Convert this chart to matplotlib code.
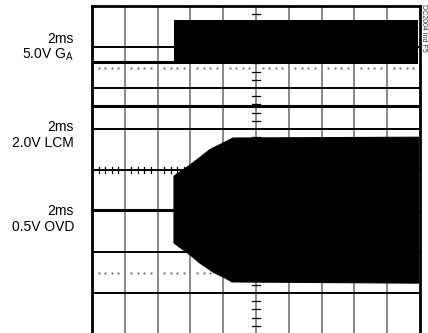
from matplotlib import pyplot as plt

# screen is 10 x 8 divisions, y measured in divisions from the bottom
t_end = 9.95
step_t = 2.5

# gate drive GA (5V/div)
ga_low = 6.64
ga_high = 7.66

# LCM (2V/div), flat
lcm_level = 5.56

# OVD (0.5V/div): baseline before the step, then burst envelope
ovd_level = 3.02
ovd_top_t = [2.5, 2.9, 3.2, 3.6, 3.9, 4.3, 9.95]
ovd_top = [3.85, 4.07, 4.25, 4.50, 4.62, 4.78, 4.80]
ovd_bot_t = [2.5, 2.99, 3.29, 3.69, 4.05, 4.27, 9.95]
ovd_bot = [2.22, 1.93, 1.73, 1.51, 1.37, 1.27, 1.24]

# ground reference markers (dotted)
ref_levels = [6.5, 1.5]

labels = [('2ms', 43), ('5.0V G$_\\mathrm{A}$', 59),
          ('2ms', 131), ('2.0V LCM', 147),
          ('2ms', 215), ('0.5V OVD', 231)]

plt.rcParams['mathtext.fontset'] = 'custom'
plt.rcParams['mathtext.rm'] = 'Liberation Sans'
font = ['Liberation Sans', 'DejaVu Sans']

W, H = 428, 333
fig = plt.figure(figsize=(W / 100, H / 100), dpi=100)
ax = fig.add_axes([92 / W, 1 - 334 / H, 328 / W, 328 / H])
ax.set_xlim(0, 10)
ax.set_ylim(0, 8)
ax.set_xticks([])
ax.set_yticks([])
for s in ax.spines.values():
    s.set_linewidth(2.0)
    s.set_color('black')

# graticule
for x in range(1, 10):
    ax.axvline(x, color='#6a6a6a', lw=1.1, zorder=1)
for y in range(1, 8):
    ax.axhline(y, color='black', lw=1.4, zorder=1)

minor = [i / 5 for i in range(1, 50) if i % 5 != 0]
for x in minor:
    ax.plot([x, x], [3.915, 4.085], color='black', lw=0.9, zorder=1)
minor_y = [i / 5 for i in range(1, 40) if i % 5 != 0]
for y in minor_y:
    ax.plot([4.88, 5.12], [y, y], color='black', lw=0.9, zorder=1)
for y in ref_levels:
    ax.plot(minor, [y] * len(minor), ls='none', marker='s', ms=0.6,
            color='#777777', zorder=1)

# traces
ax.plot([0.02, step_t], [ga_low, ga_low], color='black', lw=2.2, zorder=3)
ax.fill_between([step_t, t_end], ga_low - 0.05, ga_high, color='black',
                lw=0, zorder=3)
ax.plot([0.02, t_end], [lcm_level, lcm_level], color='black', lw=2.2, zorder=3)
ax.plot([0.02, step_t], [ovd_level, ovd_level], color='black', lw=2.2, zorder=3)
env_t = ovd_top_t + ovd_bot_t[::-1]
env_v = ovd_top + ovd_bot[::-1]
ax.fill(env_t, env_v, color='black', lw=0.8, zorder=3)

for txt, yb in labels:
    fig.text(74 / W, 1 - yb / H, txt, ha='right', va='baseline',
             fontsize=10, family=font)

fig.text(424 / W, 1 - 4 / H, 'DC2004 Ind F5', rotation=270, ha='center',
         va='top', fontsize=5, color='#333333', family=font)

fig.savefig('out.png', dpi=100)
